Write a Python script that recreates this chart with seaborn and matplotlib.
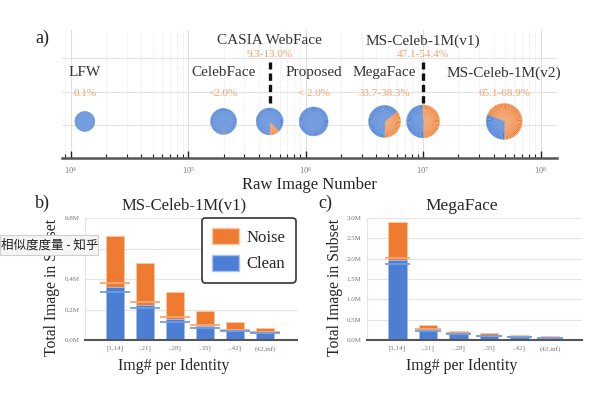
import numpy as np
import pandas as pd
import matplotlib
matplotlib.use("Agg")
import matplotlib.pyplot as plt
import seaborn as sns
from matplotlib.patches import Wedge, Patch, Rectangle
from matplotlib.transforms import ScaledTranslation
from matplotlib.ticker import FuncFormatter, LogLocator, NullFormatter

# ---- data: panel a (datasets on a log axis, noise share as pies)
datasets = ["LFW", "CelebFace", "CASIA WebFace", "Proposed", "MegaFace",
            "MS-Celeb-1M(v1)", "MS-Celeb-1M(v2)"]
raw_images = [1.32e4, 2.0e5, 4.94e5, 1.17e6, 4.7e6, 1.0e7, 4.9e7]
noise_frac = [0.001, 0.015, 0.13, 0.004, 0.36, 0.51, 0.69]
noise_text = ["0.1%", "<2.0%", "9.3-13.0%", "< 2.0%", "33.7-38.3%",
              "47.1-54.4%", "65.1-68.9%"]

# ---- data: panels b and c (images per identity bucket)
buckets = ["[1,14]", "..21]", "..28]", "..35]", "..42]", "(42,inf)"]
b_total = [0.684e6, 0.503e6, 0.317e6, 0.192e6, 0.120e6, 0.081e6]
b_clean = [0.345e6, 0.230e6, 0.136e6, 0.092e6, 0.061e6, 0.048e6]
b_clean_hi = [0.372e6, 0.251e6, 0.149e6, 0.098e6, 0.066e6, 0.051e6]
b_clean_lo = [0.317e6, 0.208e6, 0.120e6, 0.081e6, 0.057e6, 0.045e6]

c_total = [2.91e6, 0.377e6, 0.22e6, 0.165e6, 0.115e6, 0.095e6]
c_clean = [1.97e6, 0.246e6, 0.150e6, 0.100e6, 0.070e6, 0.055e6]
c_clean_hi = [2.01e6, 0.262e6, 0.165e6, 0.110e6, 0.076e6, 0.060e6]
c_clean_lo = [1.87e6, 0.230e6, 0.140e6, 0.090e6, 0.064e6, 0.050e6]

# style / layout (not data)
pie_radius_px = [10, 13, 13.5, 14.5, 16, 16.5, 18]
label_high = [False, False, True, False, False, True, False]
BLUE = "#4a7fd4"
ORANGE = "#ee7b30"
PCT = "#f2a36c"

sns.set_theme(style="whitegrid")
plt.rcParams["font.family"] = ["Liberation Serif", "Noto Sans CJK SC"]
plt.rcParams["mathtext.fontset"] = "stix"

fig = plt.figure(figsize=(6, 4), dpi=100)
fig.patch.set_facecolor("white")

# ================= panel a =================
ax = fig.add_axes([62 / 600, 1 - 158 / 400, 495 / 600, 128 / 400])
ax.set_facecolor("white")
ax.set_xscale("log")
ax.grid(False)
ax.xaxis.set_major_locator(LogLocator(base=10, numticks=10))
ax.xaxis.set_minor_locator(LogLocator(base=10, subs=np.arange(2, 10), numticks=20))
ax.xaxis.set_minor_formatter(NullFormatter())
ax.grid(True, which="major", axis="x", color="#dedede", lw=0.8)
ax.grid(True, which="minor", axis="x", color="#e2e2e2", lw=0.6, ls=":")
ax.set_yticks([1, 2, 3])
ax.grid(True, which="major", axis="y", color="#e3e3e3", lw=0.8)
ax.tick_params(axis="y", left=False, labelleft=False)
ax.tick_params(axis="x", which="major", direction="in", length=5, width=1,
               color="#222", labelsize=6, labelcolor="#777", pad=5, bottom=True)
ax.tick_params(axis="x", which="minor", direction="in", length=3, width=0.8,
               color="#222", bottom=True)
for s in ["top", "right", "left"]:
    ax.spines[s].set_visible(False)
ax.spines["bottom"].set_color("#555")
ax.spines["bottom"].set_linewidth(1.8)
ax.set_xlabel("Raw Image Number", fontsize=12, labelpad=1)

pie_y = 1.1
for name, x, frac, txt, r, high in zip(datasets, raw_images, noise_frac,
                                       noise_text, pie_radius_px, label_high):
    trans = fig.dpi_scale_trans + ScaledTranslation(x, pie_y, ax.transData)
    split = -90 + 360 * frac
    # small slices give the streaky look of the original
    for a0, a1, col, light in [(-90, split, ORANGE, "#f6b68a"),
                               (split, 270, BLUE, "#7ea4e4")]:
        steps = np.linspace(a0, a1, max(2, int((a1 - a0) / 5) + 1))
        for t0, t1 in zip(steps[:-1], steps[1:]):
            ax.add_patch(Wedge((0, 0), r / 100, t0, t1, transform=trans,
                               facecolor=col, edgecolor=light, lw=0.25,
                               zorder=3, clip_on=False))
    ny, py = (3.52, 3.10) if high else (2.56, 1.93)
    ax.text(x, ny, name, ha="center", va="center", fontsize=11, color="#333")
    ax.text(x, py, txt, ha="center", va="center", fontsize=8, color=PCT)
    if high:
        ax.vlines(x, 1.66, 2.89, colors="#111", lw=2.4,
                  linestyles=(0, (2.2, 1.2)), zorder=4)

ax.set_xlim(10 ** 3.926, 10 ** 8.14)
ax.set_ylim(0, 3.85)
fig.text(35 / 600, 1 - 38 / 400, "a)", fontsize=13, va="center", color="#222")


# ================= panels b and c =================
def bar_panel(ax, total, clean, hi, lo, step, top, half, xlab_x, ylab_x):
    df = pd.DataFrame({"bucket": buckets, "total": total, "clean": clean})
    sns.barplot(data=df, x="bucket", y="total", color=ORANGE, saturation=1,
                width=0.6, ax=ax, edgecolor="#f7c9a6", linewidth=0.6, zorder=2)
    sns.barplot(data=df, x="bucket", y="clean", color=BLUE, saturation=1,
                width=0.6, ax=ax, edgecolor="#a9c2ee", linewidth=0.6, zorder=2)
    pos = np.arange(len(buckets))
    ax.hlines(hi, pos - half, pos + half, colors="#f6a877", lw=1.3, zorder=3)
    ax.hlines(lo, pos - half, pos + half, colors="#6f9de6", lw=1.3, zorder=3)
    ax.set_facecolor("white")
    ax.set_xlim(-1, 6.05)
    ax.set_ylim(0, top)
    ax.set_yticks(np.arange(0, top + step / 2, step))
    ax.yaxis.set_major_formatter(FuncFormatter(lambda v, p: f"{v / 1e6:.1f}M"))
    ax.grid(False)
    ax.grid(True, axis="y", color="#e4e4e4", lw=0.8)
    ax.set_xticks([-1, 1, 3, 5], minor=True)
    ax.grid(True, which="minor", axis="x", color="#e4e4e4", lw=0.8)
    ax.tick_params(axis="both", which="major", labelsize=5, labelcolor="#777",
                   length=0, pad=4)
    ax.tick_params(axis="x", which="minor", length=0)
    for s in ["top", "right", "left"]:
        ax.spines[s].set_visible(False)
    ax.spines["bottom"].set_color("#555")
    ax.spines["bottom"].set_linewidth(1.5)
    ax.set_xlabel("Img# per Identity", fontsize=11.5)
    ax.set_ylabel("Total Image in Subset", fontsize=11.3)
    ax.xaxis.set_label_coords(xlab_x, -0.15)
    ax.yaxis.set_label_coords(ylab_x, 0.434)


ax_b = fig.add_axes([85 / 600, 1 - 340 / 400, 212 / 600, 122 / 400])
bar_panel(ax_b, b_total, b_clean, b_clean_hi, b_clean_lo, 0.2e6, 0.8e6, 0.5,
          0.42, -0.118)
ax_b.set_title("MS-Celeb-1M(v1)", fontsize=12, x=0.467, pad=6)
leg = ax_b.legend(handles=[Patch(facecolor=ORANGE, edgecolor="#f7c9a6", label="Noise"),
                           Patch(facecolor=BLUE, edgecolor="#a9c2ee", label="Clean")],
                  loc="upper right", bbox_to_anchor=(0.994, 1.0), borderaxespad=0,
                  fontsize=12, handlelength=1.6, handleheight=1.1,
                  handletextpad=0.5, labelspacing=0.55, borderpad=0.6,
                  fancybox=True, framealpha=1)
leg.get_frame().set_edgecolor("#333")
leg.get_frame().set_linewidth(1.2)
fig.text(35 / 600, 1 - 203 / 400, "b)", fontsize=13, va="center", color="#222")

ax_c = fig.add_axes([367 / 600, 1 - 340 / 400, 215 / 600, 122 / 400])
bar_panel(ax_c, c_total, c_clean, c_clean_hi, c_clean_lo, 0.5e6, 3.0e6, 0.42,
          0.44, -0.112)
ax_c.set_title("MegaFace", fontsize=12.5, x=0.44, pad=6)
fig.text(318 / 600, 1 - 203 / 400, "c)", fontsize=13, va="center", color="#222")

# browser tooltip that sits over panel b in the screenshot
fig.add_artist(Rectangle((0, 1 - 255 / 400), 98 / 600, 20 / 400,
                         transform=fig.transFigure, facecolor="#f5f5f5",
                         edgecolor="#cfcfcf", lw=0.8, zorder=10))
fig.text(1 / 600, 1 - 245 / 400, "相似度度量 - 知乎", fontsize=9,
         family=["Noto Sans CJK SC", "DejaVu Sans"], color="#222",
         va="center", ha="left", zorder=11)

fig.savefig("out.png", dpi=100)
